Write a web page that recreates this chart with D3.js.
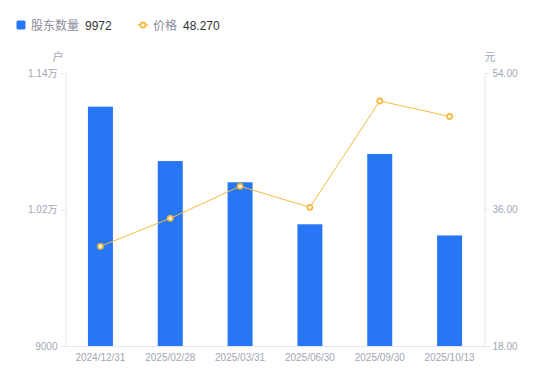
<!DOCTYPE html>
<html>
<head>
<meta charset="utf-8">
<script src="https://cdn.jsdelivr.net/npm/d3@7"></script>
<style>
html,body{margin:0;padding:0;background:#fff;}
svg{display:block;font-family:"Noto Sans CJK SC","Noto Sans",sans-serif;}
</style>
</head>
<body>
<svg id="chart" width="550" height="381"></svg>
<script>
const categories = ["2024/12/31","2025/02/28","2025/03/31","2025/06/30","2025/09/30","2025/10/13"];
const holders = [11104, 10626, 10439, 10070, 10688, 9972];
const prices = [31.15, 34.84, 39.06, 36.29, 50.31, 48.27];
const leftTicks = [9000, 10200, 11400];
const leftTickLabels = ["9000", "1.02万", "1.14万"];
const rightTicks = [18, 36, 54];
const rightTickLabels = ["18.00", "36.00", "54.00"];
const legendHolders = "9972";
const legendPrice = "48.270";

const svg = d3.select("#chart");
const m = {left: 65.5, right: 484.5, top: 73, bottom: 346};
const barColor = "#2777F5";
const lineColor = "#F7B940";
const axisColor = "#E3E5EA";
const labelColor = "#A3A6B4";
const numFont = '"Liberation Sans", Arial, sans-serif';

const x = d3.scaleBand().domain(categories).range([m.left, m.right]).paddingInner(0).paddingOuter(0);
const yL = d3.scaleLinear().domain([9000, 11400]).range([m.bottom, m.top]);
const yR = d3.scaleLinear().domain([18, 54]).range([m.bottom, m.top]);

const gL = svg.append("g").attr("transform", `translate(${m.left},0)`)
  .call(d3.axisLeft(yL).tickValues(leftTicks).tickFormat((d,i)=>leftTickLabels[i]).tickSize(5).tickSizeOuter(0).tickPadding(3));
const gR = svg.append("g").attr("transform", `translate(${m.right},0)`)
  .call(d3.axisRight(yR).tickValues(rightTicks).tickFormat((d,i)=>rightTickLabels[i]).tickSize(5).tickSizeOuter(0).tickPadding(3));
const gB = svg.append("g").attr("transform", `translate(0,${m.bottom})`)
  .call(d3.axisBottom(x).tickSize(0).tickPadding(8));

[gL, gR, gB].forEach(g => {
  g.selectAll(".domain").attr("stroke", axisColor);
  g.selectAll(".tick line").attr("stroke", axisColor);
  g.selectAll("text").attr("fill", labelColor).style("font-size", "10px")
    .style("font-family", numFont);
});
gL.selectAll("text").style("font-family", '"Liberation Sans", "Noto Sans CJK SC", sans-serif');

svg.append("text").attr("x", 58).attr("y", 61).attr("text-anchor", "middle")
  .attr("fill", labelColor).style("font-size", "11px").text("户");
svg.append("text").attr("x", 490).attr("y", 61).attr("text-anchor", "middle")
  .attr("fill", labelColor).style("font-size", "11px").text("元");

const bw = 25;
svg.append("g").selectAll("rect").data(holders).join("rect")
  .attr("x", (d,i) => x(categories[i]) + x.bandwidth()/2 - bw/2)
  .attr("width", bw)
  .attr("y", d => yL(d))
  .attr("height", d => m.bottom - yL(d))
  .attr("fill", barColor);

const cx = (d,i) => x(categories[i]) + x.bandwidth()/2;
svg.append("path").datum(prices)
  .attr("d", d3.line().x((d,i)=>cx(d,i)).y(d=>yR(d)))
  .attr("fill", "none").attr("stroke", lineColor).attr("stroke-width", 1);
svg.append("g").selectAll("circle").data(prices).join("circle")
  .attr("cx", (d,i)=>cx(d,i)).attr("cy", d=>yR(d)).attr("r", 2.5)
  .attr("fill", "#fff").attr("stroke", lineColor).attr("stroke-width", 1.8);

const lg = svg.append("g");
lg.append("rect").attr("x", 16.5).attr("y", 20.5).attr("width", 9).attr("height", 9).attr("rx", 1.5).attr("fill", barColor);
lg.append("text").attr("x", 31).attr("y", 29.5).attr("fill", "#8A8D99").style("font-size", "12px").text("股东数量");
lg.append("text").attr("x", 85).attr("y", 29.5).attr("fill", "#333").style("font-size", "12px").style("font-family", numFont).text(legendHolders);
lg.append("line").attr("x1", 138).attr("x2", 148).attr("y1", 25).attr("y2", 25).attr("stroke", lineColor).attr("stroke-width", 1.5);
lg.append("circle").attr("cx", 143).attr("cy", 25).attr("r", 2.5).attr("fill", "#fff").attr("stroke", lineColor).attr("stroke-width", 1.8);
lg.append("text").attr("x", 153).attr("y", 29.5).attr("fill", "#8A8D99").style("font-size", "12px").text("价格");
lg.append("text").attr("x", 183).attr("y", 29.5).attr("fill", "#333").style("font-size", "12px").style("font-family", numFont).text(legendPrice);
</script>
</body>
</html>
